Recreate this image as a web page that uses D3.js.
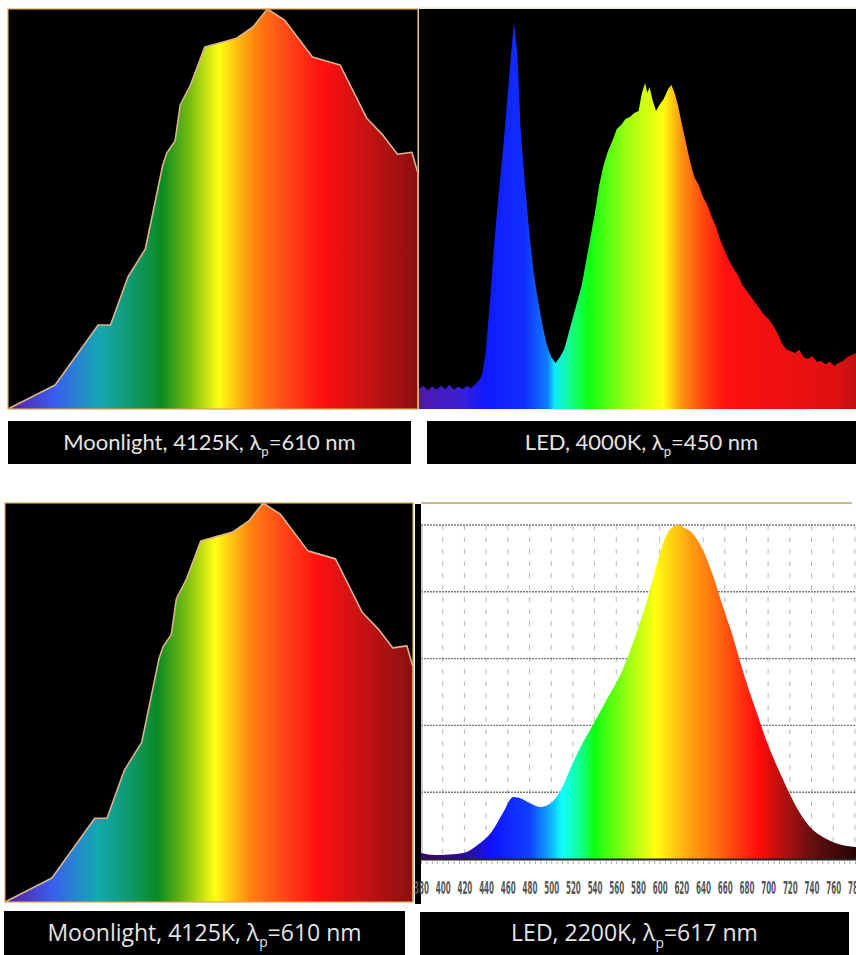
<!DOCTYPE html>
<html>
<head>
<meta charset="utf-8">
<script src="https://cdn.jsdelivr.net/npm/d3@7/dist/d3.min.js"></script>
<style>
  body { margin: 0; background: #fff; }
  svg { display: block; }
</style>
</head>
<body>
<svg id="chart"></svg>
<script>
// ---- data (wavelength in nm, relative intensity 0..1) ----
var moonWl  = [380, 426, 468, 480, 497, 514, 531, 535, 543, 548, 550, 558, 572, 589, 603, 619, 633, 650, 677, 704, 730, 746, 760, 774, 780];
var moonVal = [0.00, 0.06, 0.21, 0.21, 0.33, 0.40, 0.61, 0.64, 0.67, 0.76, 0.77, 0.81, 0.905, 0.917, 0.927, 0.955, 1.00, 0.972, 0.88, 0.86, 0.727, 0.684, 0.637, 0.642, 0.589];

var led4000Wl  = [380, 384, 388, 392, 396, 400, 404, 408, 412, 416, 420, 424, 428, 432, 436, 438, 441, 445, 449, 453, 457, 461, 464, 467, 470, 473, 477, 481, 485, 489, 493, 497, 501, 505, 509, 513, 517, 521, 525, 529, 533, 537, 541, 545, 549, 553, 557, 561, 565, 569, 573, 577, 581, 584, 587, 589, 591, 594, 597, 600, 604, 608, 611, 614, 617, 620, 624, 628, 632, 636, 640, 644, 648, 652, 656, 660, 664, 668, 672, 676, 680, 684, 688, 692, 696, 700, 704, 708, 712, 716, 720, 724, 728, 732, 736, 740, 744, 748, 752, 756, 760, 764, 768, 772, 776, 780];
var led4000Val = [0.05, 0.058, 0.047, 0.056, 0.048, 0.058, 0.05, 0.06, 0.049, 0.056, 0.05, 0.058, 0.052, 0.063, 0.075, 0.09, 0.14, 0.27, 0.42, 0.54, 0.65, 0.78, 0.88, 0.965, 0.89, 0.70, 0.56, 0.44, 0.34, 0.27, 0.21, 0.16, 0.13, 0.115, 0.13, 0.15, 0.19, 0.23, 0.27, 0.31, 0.37, 0.43, 0.49, 0.56, 0.61, 0.645, 0.67, 0.70, 0.71, 0.725, 0.73, 0.74, 0.745, 0.79, 0.815, 0.79, 0.805, 0.77, 0.745, 0.76, 0.775, 0.80, 0.81, 0.79, 0.76, 0.72, 0.67, 0.62, 0.58, 0.56, 0.53, 0.51, 0.48, 0.455, 0.42, 0.395, 0.37, 0.35, 0.335, 0.31, 0.295, 0.28, 0.265, 0.25, 0.235, 0.225, 0.21, 0.19, 0.165, 0.15, 0.145, 0.14, 0.148, 0.13, 0.125, 0.132, 0.118, 0.12, 0.112, 0.118, 0.108, 0.115, 0.12, 0.13, 0.135, 0.14];

var led2200Wl  = [380, 393, 419, 432, 445, 456, 465, 471, 480, 490, 501, 510, 519, 528, 540, 552, 565, 577, 589, 598, 605, 612, 617, 621, 630, 639, 648, 657, 667, 677, 688, 700, 713, 725, 737, 752, 768, 782];
var led2200Val = [0.018, 0.012, 0.018, 0.042, 0.081, 0.141, 0.186, 0.183, 0.168, 0.156, 0.171, 0.213, 0.281, 0.341, 0.41, 0.482, 0.56, 0.662, 0.781, 0.889, 0.961, 0.994, 1.0, 0.994, 0.976, 0.931, 0.859, 0.769, 0.671, 0.56, 0.452, 0.341, 0.243, 0.162, 0.102, 0.063, 0.042, 0.036];

var axisTicks = [380, 400, 420, 440, 460, 480, 500, 520, 540, 560, 580, 600, 620, 640, 660, 680, 700, 720, 740, 760, 780];
var gridLevels = [0.2, 0.4, 0.6, 0.8, 1.0];

var captionNames = ["Moonlight", "LED", "Moonlight", "LED"];
var captionCct   = ["4125K", "4000K", "4125K", "2200K"];
var captionPeak  = [610, 450, 610, 617];

// ---- colour ramps (nm -> colour) ----
var moonStops = [[380, "#5a1aa0"], [426, "#3a5ef0"], [470, "#14a8b0"], [500, "#109a70"], [530, "#0a8a22"], [559, "#80c010"], [586, "#ffff14"], [603, "#ffc010"], [622, "#ff8010"], [647, "#ff5018"], [686, "#ff1010"], [735, "#c01212"], [780, "#8a1010"]];
var led4000Stops = [[380, "#5018b0"], [418, "#3a20d0"], [440, "#1018ff"], [477, "#1030ff"], [498, "#1080ff"], [504, "#10e8ff"], [520, "#10ff80"], [536, "#10ff10"], [571, "#a0ff10"], [603, "#ffff10"], [621, "#ff9010"], [642, "#ff4010"], [660, "#ff1010"], [760, "#e01010"], [780, "#c01010"]];
var led2200Stops = [[380, "#3a0860"], [425, "#2a10a0"], [444, "#1010ff"], [480, "#1040ff"], [497, "#10a0ff"], [510, "#10ffff"], [527, "#10ff90"], [540, "#10ff10"], [568, "#90ff10"], [596, "#ffff10"], [628, "#ffa010"], [651, "#ff7010"], [674, "#ff3510"], [692, "#ff0a0a"], [715, "#b01010"], [743, "#601010"], [782, "#200505"]];

var W = 856, H = 955;
var svg = d3.select("#chart").attr("width", W).attr("height", H);
var defs = svg.append("defs");

function ramp(id, stops, x) {
	var g = defs.append("linearGradient")
		.attr("id", id)
		.attr("gradientUnits", "userSpaceOnUse")
		.attr("x1", x(stops[0][0])).attr("x2", x(stops[stops.length - 1][0]))
		.attr("y1", 0).attr("y2", 0);
	g.selectAll("stop").data(stops).enter().append("stop")
		.attr("offset", (d) => (d[0] - stops[0][0]) / (stops[stops.length - 1][0] - stops[0][0]))
		.attr("stop-color", (d) => d[1]);
}

function pairs(wl, val) {
	return wl.map((w, i) => ({wl: w, v: val[i]}));
}

// moonlight panel (used twice)
function moonPanel(id, x0, y0, x1, y1) {
	svg.append("rect").attr("x", x0).attr("y", y0).attr("width", x1 - x0).attr("height", y1 - y0).attr("fill", "#000");
	var x = d3.scaleLinear().domain([380, 780]).range([x0, x1]);
	var y = d3.scaleLinear().domain([0, 1]).range([y1, y0]);
	ramp(id, moonStops, x);
	var pts = pairs(moonWl, moonVal);
	var area = d3.area().x((d) => x(d.wl)).y0(y(0)).y1((d) => y(d.v));
	svg.append("path").datum(pts).attr("d", area).attr("fill", "url(#" + id + ")");
	var line = d3.line().x((d) => x(d.wl)).y((d) => y(d.v));
	svg.append("path").datum(pts.concat([{wl: 780, v: 0}])).attr("d", line)
		.attr("fill", "none").attr("stroke", "#d9b48c").attr("stroke-width", 1.6).attr("stroke-linejoin", "round");
	svg.append("rect").attr("x", x0).attr("y", y0).attr("width", x1 - x0).attr("height", y1 - y0)
		.attr("fill", "none").attr("stroke", "#d9a44e").attr("stroke-width", 1.2);
}

moonPanel("moonTop", 8, 9, 418, 409);
moonPanel("moonBot", 5, 503, 413, 902);

// LED 4000K panel
(function () {
	var x0 = 419, x1 = 856, y0 = 9, y1 = 409;
	svg.append("rect").attr("x", x0).attr("y", y0).attr("width", x1 - x0).attr("height", y1 - y0).attr("fill", "#000");
	var x = d3.scaleLinear().domain([380, 780]).range([x0, x1]);
	var y = d3.scaleLinear().domain([0, 1]).range([y1, y0]);
	ramp("led4000", led4000Stops, x);
	var area = d3.area().x((d) => x(d.wl)).y0(y(0)).y1((d) => y(d.v));
	svg.append("path").datum(pairs(led4000Wl, led4000Val)).attr("d", area).attr("fill", "url(#led4000)");
	svg.append("line").attr("x1", x0).attr("x2", x1).attr("y1", 8).attr("y2", 8).attr("stroke", "#e8d9b8").attr("stroke-width", 1);
})();

// LED 2200K panel
(function () {
	var x0 = 421, x1 = 856, y0 = 525, y1 = 859;
	svg.append("rect").attr("x", 415).attr("y", 504).attr("width", 6).attr("height", 400).attr("fill", "#000");
	svg.append("line").attr("x1", 421).attr("x2", 852).attr("y1", 503).attr("y2", 503).attr("stroke", "#cdb98e").attr("stroke-width", 2);
	var x = d3.scaleLinear().domain([380, 781]).range([x0, x1]);
	var y = d3.scaleLinear().domain([0, 1]).range([y1, y0]);
	ramp("led2200", led2200Stops, x);

	var g = svg.append("g");
	g.selectAll(".vgrid").data(axisTicks.slice(1)).enter().append("line")
		.attr("x1", (d) => x(d)).attr("x2", (d) => x(d))
		.attr("y1", y0).attr("y2", y1)
		.attr("stroke", "#b8b8b8").attr("stroke-width", 1).attr("stroke-dasharray", "5,7");
	g.selectAll(".hgrid").data(gridLevels).enter().append("line")
		.attr("x1", x0).attr("x2", x1)
		.attr("y1", (d) => y(d)).attr("y2", (d) => y(d))
		.attr("stroke", "#7a7a7a").attr("stroke-width", 1.4).attr("stroke-dasharray", "2,1");
	g.append("line").attr("x1", x0 + 1).attr("x2", x0 + 1).attr("y1", y0).attr("y2", y1).attr("stroke", "#999");

	var area = d3.area().x((d) => x(d.wl)).y0(y(0)).y1((d) => y(d.v)).curve(d3.curveMonotoneX);
	svg.append("path").datum(pairs(led2200Wl, led2200Val)).attr("d", area).attr("fill", "url(#led2200)");
	svg.append("line").attr("x1", x0).attr("x2", x1).attr("y1", y1 + 0.5).attr("y2", y1 + 0.5).attr("stroke", "#222").attr("stroke-width", 2);

	var minor = d3.axisBottom(x).tickValues(d3.range(380, 781, 5)).tickSize(4).tickFormat("");
	var gm = svg.append("g").attr("transform", "translate(0," + (y1 + 1) + ")").call(minor);
	gm.select(".domain").remove();
	gm.selectAll("line").attr("stroke", "#aaa");

	var major = d3.axisBottom(x).tickValues(axisTicks).tickSize(0).tickPadding(0);
	var ga = svg.append("g").attr("transform", "translate(0,888)").call(major);
	ga.select(".domain").remove();
	ga.selectAll("text")
		.attr("y", 0).attr("dy", "0.36em")
		.attr("transform", "scale(0.42,1)")
		.attr("fill", "#555")
		.attr("font-family", "DejaVu Sans")
		.attr("font-weight", "bold")
		.attr("font-size", 17);
})();

// captions
var boxes = [[8, 421, 403, 43], [427, 421, 429, 43], [4, 911, 401, 44], [420, 912, 429, 43]];
var fontSizes = [22, 22, 23, 23];
var fontFamilies = ["Lato, sans-serif", "Lato, sans-serif", "Open Sans, sans-serif", "Open Sans, sans-serif"];
boxes.forEach(function (b, i) {
	svg.append("rect").attr("x", b[0]).attr("y", b[1]).attr("width", b[2]).attr("height", b[3]).attr("fill", "#000");
	var t = svg.append("text")
		.attr("x", b[0] + b[2] / 2).attr("y", b[1] + b[3] / 2 + fontSizes[i] * 0.33)
		.attr("text-anchor", "middle")
		.attr("fill", "#e4e4e4")
		.attr("font-family", fontFamilies[i])
		.attr("font-size", fontSizes[i]);
	t.append("tspan").text(captionNames[i] + ", " + captionCct[i] + ", λ");
	t.append("tspan").attr("font-size", fontSizes[i] * 0.6).attr("dy", fontSizes[i] * 0.3).text("p");
	t.append("tspan").attr("dy", -fontSizes[i] * 0.3).text("=" + captionPeak[i] + " nm");
});
</script>
</body>
</html>
